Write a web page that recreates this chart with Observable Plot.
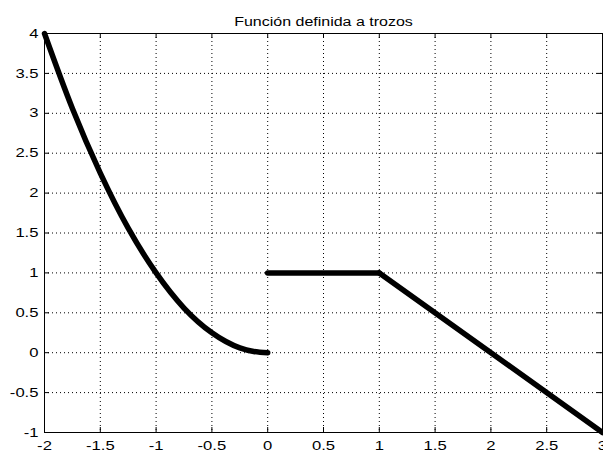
<!DOCTYPE html>
<html><head><meta charset="utf-8">
<script src="https://cdn.jsdelivr.net/npm/d3@7"></script>
<script src="https://cdn.jsdelivr.net/npm/@observablehq/plot@0.6"></script>
<style>body{margin:0;background:#fff;} svg{display:block;}</style>
</head><body><div id="chart"></div>
<script>
const title = "Función definida a trozos";
// piece 1: curve
const p1x = [-2, -1.75, -1.5, -1.25, -1, -0.75, -0.5, -0.375, -0.25, -0.125, 0];
const p1y = [4, 3.06, 2.25, 1.56, 1, 0.56, 0.25, 0.14, 0.06, 0.016, 0];
// piece 2: flat
const p2x = [0, 1];
const p2y = [1, 1];
// piece 3: descending line
const p3x = [1, 3];
const p3y = [1, -1];
const xTicks = [-2, -1.5, -1, -0.5, 0, 0.5, 1, 1.5, 2, 2.5, 3];
const yTicks = [-1, -0.5, 0, 0.5, 1, 1.5, 2, 2.5, 3, 3.5, 4];

const pieces = [];
p1x.forEach((x, i) => pieces.push({x, y: p1y[i], k: "a"}));
p2x.forEach((x, i) => pieces.push({x, y: p2y[i], k: "b"}));
p3x.forEach((x, i) => pieces.push({x, y: p3y[i], k: "c"}));

const W = 603, H = 453, ML = 44, MR = 1, MT = 33, MB = 21;
const fw = W - ML - MR, fh = H - MT - MB, T = 5;
const fmt = d => String(d);
const chart = Plot.plot({
  width: W, height: H,
  marginLeft: ML, marginRight: MR, marginTop: MT, marginBottom: MB,
  style: {fontFamily: "'Liberation Sans', Arial, sans-serif", fontSize: "13px", color: "#000", background: "#fff"},
  x: {domain: [-2, 3]},
  y: {domain: [-1, 4]},
  marks: [
    Plot.gridX(xTicks, {stroke: "#000", strokeOpacity: 1, strokeDasharray: "1,3", strokeWidth: 1}),
    Plot.gridY(yTicks, {stroke: "#000", strokeOpacity: 1, strokeDasharray: "1,3", strokeWidth: 1}),
    Plot.axisX(xTicks, {anchor: "bottom", tickSize: 0, tickPadding: 8, tickFormat: fmt, label: null, fontSize: 13}),
    Plot.axisY(yTicks, {anchor: "left", tickSize: 0, tickPadding: 6, tickFormat: fmt, label: null, fontSize: 13}),
    Plot.tickX(xTicks, {x: d => d, insetTop: fh - T, stroke: "#000"}),
    Plot.tickX(xTicks, {x: d => d, insetBottom: fh - T, stroke: "#000"}),
    Plot.tickY(yTicks, {y: d => d, insetRight: fw - T, stroke: "#000"}),
    Plot.tickY(yTicks, {y: d => d, insetLeft: fw - T, stroke: "#000"}),
    Plot.frame({stroke: "#000", strokeWidth: 1}),
    Plot.line(pieces, {x: "x", y: "y", z: "k", stroke: "#000", strokeWidth: 5.5, curve: "monotone-x"}),
    Plot.text([title], {frameAnchor: "top", dy: -16, fontSize: 12.5, fill: "#000"})
  ]
});
// stretch text horizontally to match the reference's wide glyphs
chart.querySelectorAll("text").forEach(t => {
  const tr = t.getAttribute("transform");
  if (tr) t.setAttribute("transform", tr + " scale(1.28,1)");
  else {
    const x = +t.getAttribute("x") || 0, y = +t.getAttribute("y") || 0;
    t.removeAttribute("x"); t.removeAttribute("y");
    t.setAttribute("transform", `translate(${x},${y}) scale(1.28,1)`);
  }
});
document.getElementById("chart").appendChild(chart);
</script>
</body></html>
